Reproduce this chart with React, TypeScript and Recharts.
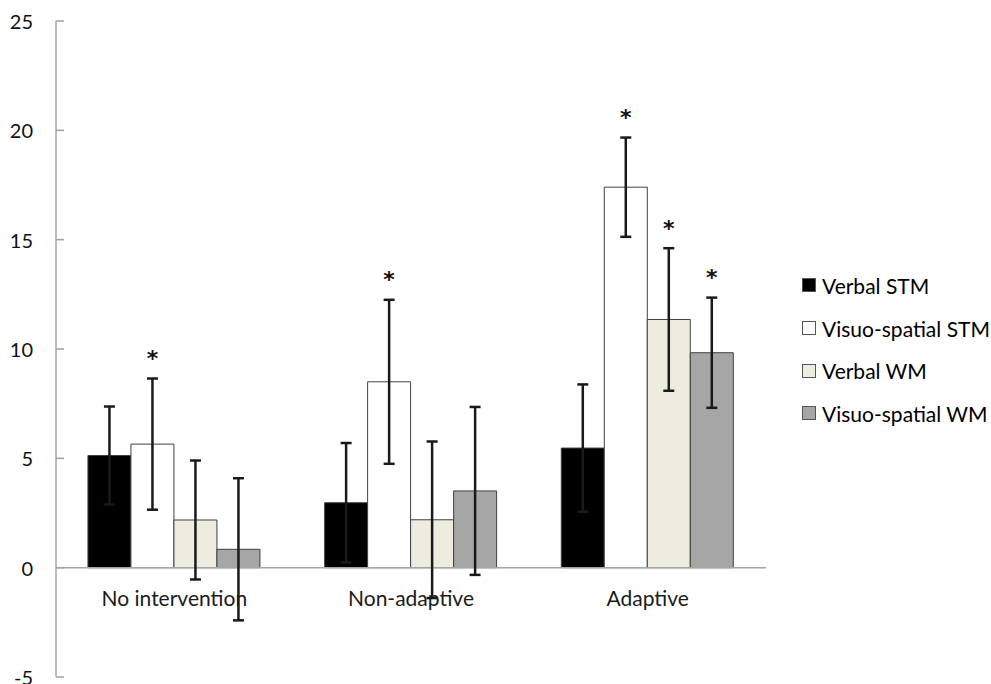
import React from "react";
import { BarChart, Bar, XAxis, YAxis, ErrorBar, ReferenceLine, Legend, LabelList } from "recharts";

const categories = ["No intervention", "Non-adaptive", "Adaptive"];
const seriesNames = ["Verbal STM", "Visuo-spatial STM", "Verbal WM", "Visuo-spatial WM"];
const seriesColors = ["#000000", "#ffffff", "#eeece1", "#a6a6a6"];
const verbalStm = [5.13, 2.97, 5.47];
const verbalStmErr = [2.24, 2.73, 2.91];
const vsStm = [5.65, 8.5, 17.4];
const vsStmErr = [3.0, 3.75, 2.27];
const verbalWm = [2.18, 2.19, 11.35];
const verbalWmErr = [2.72, 3.58, 3.26];
const vsWm = [0.84, 3.51, 9.83];
const vsWmErr = [3.25, 3.84, 2.52];
const verbalStmSig = [false, false, false];
const vsStmSig = [true, true, true];
const verbalWmSig = [false, false, true];
const vsWmSig = [false, false, true];
const yTicks = [-5, 0, 5, 10, 15, 20, 25];

const data = categories.map((c, i) => ({
  name: c,
  verbalStm: verbalStm[i],
  verbalStmErr: verbalStmErr[i],
  vsStm: vsStm[i],
  vsStmErr: vsStmErr[i],
  verbalWm: verbalWm[i],
  verbalWmErr: verbalWmErr[i],
  vsWm: vsWm[i],
  vsWmErr: vsWmErr[i],
}));

const W = 991;
const H = 684;
const M = { top: 21, right: 225, bottom: 6, left: 0 };
const X_AXIS_H = 1;
const Y_AXIS_W = 56;
const Y_MIN = -5;
const Y_MAX = 25;
const PLOT_H = H - M.top - M.bottom - X_AXIS_H;
const zeroY = M.top + (PLOT_H * (Y_MAX - 0)) / (Y_MAX - Y_MIN);
const FONT = "Lato, 'Open Sans', sans-serif";

const YTick = (props: any) => {
  const { y, payload } = props;
  const ax = M.left + Y_AXIS_W;
  return (
    <text x={ax - 23} y={Number(y)} textAnchor="end" dominantBaseline="central" fontFamily={FONT} fontSize={20} fill="#111">
      {payload.value}
    </text>
  );
};

const InnerTick = (p: any) => (
  <path d={`M${Number(p.x1)},${Number(p.y1)}h8`} stroke="#a0a0a0" strokeWidth={1.5} fill="none" />
);

const XTick = (props: any) => {
  const { x, payload } = props;
  return (
    <text x={x} y={zeroY + 30} textAnchor="middle" dominantBaseline="central" fontFamily={FONT} fontSize={21} fill="#1a1a1a">
      {payload.value}
    </text>
  );
};

const makeStar = (errs: number[], sig: boolean[]) => (props: any) => {
  const { x, y, width, index } = props;
  if (!sig[index]) return null;
  const ppu = PLOT_H / (Y_MAX - Y_MIN);
  const errTop = Number(y) - errs[index] * ppu;
  return (
    <text x={Number(x) + Number(width) / 2} y={errTop - 26} textAnchor="middle" dominantBaseline="central" fontFamily="'DejaVu Sans', sans-serif" fontWeight="bold" fontSize={22} dy={6} fill="#111">
      *
    </text>
  );
};

const LegendContent = () => (
  <div>
    {seriesNames.map((n, i) => (
      <div key={n} style={{ display: "flex", alignItems: "center", height: 42.7, fontFamily: FONT, fontSize: 21, color: "#000", whiteSpace: "nowrap" }}>
        <span style={{ display: "inline-block", width: 12, height: 12, background: seriesColors[i], border: "1px solid #555", marginRight: 6 }} />
        <span>{n}</span>
      </div>
    ))}
  </div>
);

export default function App() {
  return (
    <div style={{ position: "absolute", left: 0, top: 0, width: W, height: H, background: "#fff" }}>
      <BarChart width={W} height={H} data={data} margin={M} barGap={0} barCategoryGap="13.5%">
        <XAxis dataKey="name" height={X_AXIS_H} axisLine={false} tickLine={false} tick={<XTick />} interval={0} />
        <YAxis
          width={Y_AXIS_W}
          domain={[Y_MIN, Y_MAX]}
          ticks={yTicks}
          type="number"
          allowDataOverflow
          axisLine={{ stroke: "#a6a6a6", strokeWidth: 1.5 }}
          tickLine={false}
          tick={<YTick />}
          interval={0}
        />
        {yTicks.map((t) => (
          <ReferenceLine key={`tk${t}`} y={t} ifOverflow="visible" shape={InnerTick} />
        ))}
        <ReferenceLine y={0} stroke="#a6a6a6" strokeWidth={1.5} />
        <Legend layout="vertical" align="center" verticalAlign="middle" wrapperStyle={{ left: 802, top: 264, width: 190 }} content={<LegendContent />} />
        <Bar dataKey="verbalStm" name={seriesNames[0]} fill={seriesColors[0]} stroke="#404040" strokeWidth={1} isAnimationActive={false}>
          <ErrorBar dataKey="verbalStmErr" width={5.5} strokeWidth={2.5} stroke="#1a1a1a" />
          <LabelList dataKey="verbalStm" content={makeStar(verbalStmErr, verbalStmSig)} />
        </Bar>
        <Bar dataKey="vsStm" name={seriesNames[1]} fill={seriesColors[1]} stroke="#404040" strokeWidth={1} isAnimationActive={false}>
          <ErrorBar dataKey="vsStmErr" width={5.5} strokeWidth={2.5} stroke="#1a1a1a" />
          <LabelList dataKey="vsStm" content={makeStar(vsStmErr, vsStmSig)} />
        </Bar>
        <Bar dataKey="verbalWm" name={seriesNames[2]} fill={seriesColors[2]} stroke="#404040" strokeWidth={1} isAnimationActive={false}>
          <ErrorBar dataKey="verbalWmErr" width={5.5} strokeWidth={2.5} stroke="#1a1a1a" />
          <LabelList dataKey="verbalWm" content={makeStar(verbalWmErr, verbalWmSig)} />
        </Bar>
        <Bar dataKey="vsWm" name={seriesNames[3]} fill={seriesColors[3]} stroke="#404040" strokeWidth={1} isAnimationActive={false}>
          <ErrorBar dataKey="vsWmErr" width={5.5} strokeWidth={2.5} stroke="#1a1a1a" />
          <LabelList dataKey="vsWm" content={makeStar(vsWmErr, vsWmSig)} />
        </Bar>
      </BarChart>
    </div>
  );
}
